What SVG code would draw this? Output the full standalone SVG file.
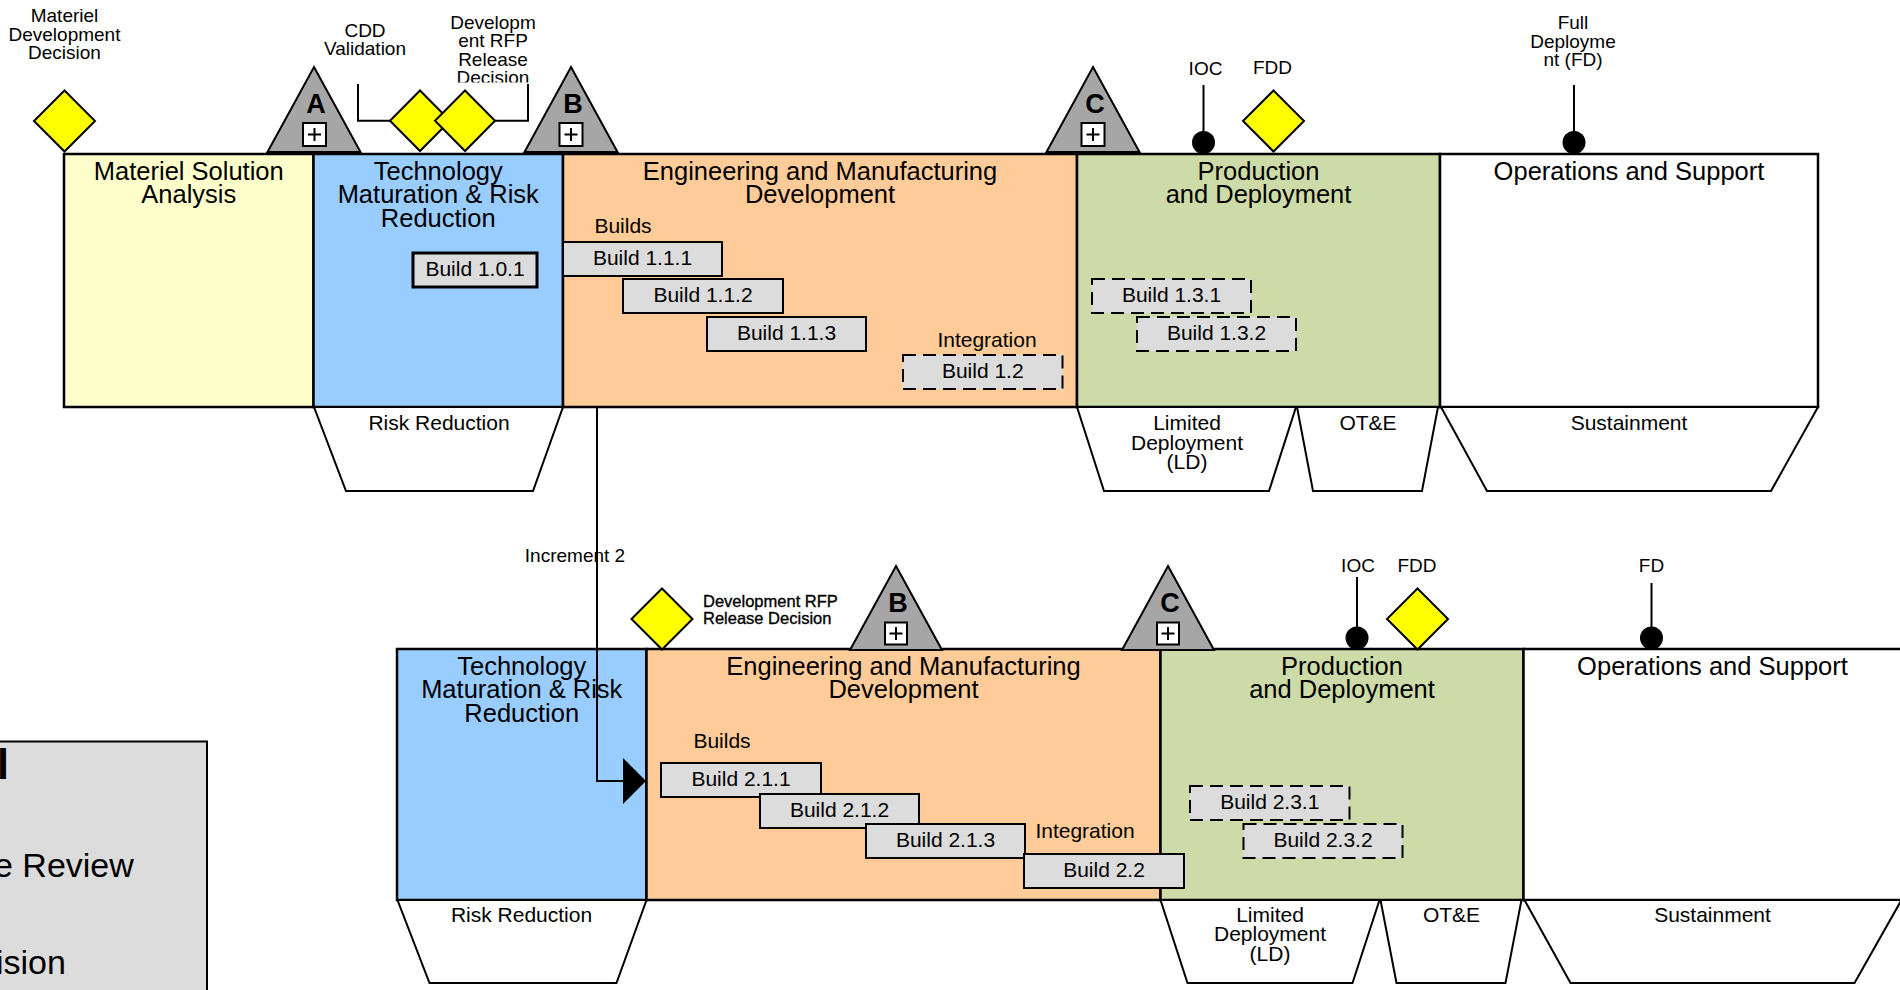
<svg xmlns="http://www.w3.org/2000/svg" width="1900" height="990" viewBox="0 0 1900 990">
<defs>
<style>
text { font-family: "Liberation Sans", Arial, sans-serif; fill: #000; }
.title { font-size: 25.5px; text-anchor: middle; }
.lbl { font-size: 21px; text-anchor: middle; }
.ms { font-size: 19px; text-anchor: middle; }
.big { font-size: 27px; font-weight: bold; text-anchor: middle; }
.ph { stroke: #000; stroke-width: 2.5; }
.msa { fill: #FFFFCC; }
.tmrr { fill: #99CCFF; }
.emd { fill: #FFCC99; }
.pd { fill: #CCDBA8; }
.os { fill: #FFFFFF; }
.build { fill: #DCDCDC; stroke: #000; stroke-width: 2; }
.dash { stroke-dasharray: 13 7; }
.dia { fill: #FFFF00; stroke: #000; stroke-width: 2; }
.tri { fill: #A6A6A6; stroke: #000; stroke-width: 2; }
.plus { fill: #FFFFFF; stroke: #000; stroke-width: 2; }
.trap { fill: #FFFFFF; stroke: #000; stroke-width: 2; }
.ln { fill: none; stroke: #000; stroke-width: 2; }
.rfp { font-size: 16.5px; stroke: #000; stroke-width: 0.35px; }
</style>
<clipPath id="clipRfp"><rect x="430" y="0" width="130" height="82.5"/></clipPath>
<marker id="arrowHead" viewBox="0 0 23 46" refX="23" refY="23" markerWidth="23" markerHeight="46" markerUnits="userSpaceOnUse" orient="auto"><path d="M0,0 L23,23 L0,46 Z" fill="#000"/></marker>
</defs>
<rect x="0" y="0" width="1900" height="990" fill="#FFFFFF"/>

<!-- ===== Row 1 phases ===== -->
<g id="msa1">
<rect class="ph msa" x="64" y="154" width="249.5" height="253"/>
<text class="title" x="188.75" y="180">Materiel Solution</text>
<text class="title" x="188.75" y="203.3">Analysis</text>
</g>
<g id="tmrr1">
<rect class="ph tmrr" x="313.5" y="154" width="249.5" height="253"/>
<text class="title" x="438.25" y="180">Technology</text>
<text class="title" x="438.25" y="203.3">Maturation &amp; Risk</text>
<text class="title" x="438.25" y="226.6">Reduction</text>
</g>
<g id="emd1">
<rect class="ph emd" x="563" y="154" width="514" height="253"/>
<text class="title" x="820" y="180">Engineering and Manufacturing</text>
<text class="title" x="820" y="203.3">Development</text>
<text class="lbl" x="623" y="233">Builds</text>
<text class="lbl" x="987" y="346.5">Integration</text>
</g>
<g id="pd1">
<rect class="ph pd" x="1077" y="154" width="363" height="253"/>
<text class="title" x="1258.5" y="180">Production</text>
<text class="title" x="1258.5" y="203.3">and Deployment</text>
</g>
<g id="os1">
<rect class="ph os" x="1440" y="154" width="378" height="253"/>
<text class="title" x="1629" y="180">Operations and Support</text>
</g>

<!-- Row 1 builds -->
<g id="b101"><rect class="build" x="413" y="253" width="124" height="34" style="stroke-width:3"/><text class="lbl" x="475" y="275.5">Build 1.0.1</text></g>
<g id="b111"><rect class="build" x="563" y="242" width="159" height="34"/><text class="lbl" x="642.5" y="264.5">Build 1.1.1</text></g>
<g id="b112"><rect class="build" x="623" y="279" width="160" height="34"/><text class="lbl" x="703" y="301.5">Build 1.1.2</text></g>
<g id="b113"><rect class="build" x="707" y="317" width="159" height="34"/><text class="lbl" x="786.5" y="339.5">Build 1.1.3</text></g>
<g id="b12"><rect class="build dash" x="903" y="355" width="159.5" height="34"/><text class="lbl" x="982.75" y="377.5">Build 1.2</text></g>
<g id="b131"><rect class="build dash" x="1092" y="279" width="159" height="34"/><text class="lbl" x="1171.5" y="301.5">Build 1.3.1</text></g>
<g id="b132"><rect class="build dash" x="1137" y="317" width="159" height="34"/><text class="lbl" x="1216.5" y="339.5">Build 1.3.2</text></g>

<!-- Row 1 trapezoids -->
<g id="rr1"><path class="trap" d="M314,407 L563,407 L533,491 L346,491 Z"/><text class="lbl" x="439" y="430">Risk Reduction</text></g>
<g id="ld1"><path class="trap" d="M1077,407 L1296,407 L1269,491 L1104,491 Z"/><text class="lbl" x="1187" y="430">Limited</text><text class="lbl" x="1187" y="449.5">Deployment</text><text class="lbl" x="1187" y="469">(LD)</text></g>
<g id="ote1"><path class="trap" d="M1297,407 L1438,407 L1422,491 L1313,491 Z"/><text class="lbl" x="1368" y="430">OT&amp;E</text></g>
<g id="sus1"><path class="trap" d="M1441,407 L1818,407 L1771,491 L1487,491 Z"/><text class="lbl" x="1629" y="430">Sustainment</text></g>

<!-- Row 1 milestones -->
<g id="mdd">
<path class="dia" d="M64.5,90.5 L95,121 L64.5,151.5 L34,121 Z"/>
<text class="ms" x="64.5" y="22">Materiel</text>
<text class="ms" x="64.5" y="40.5">Development</text>
<text class="ms" x="64.5" y="59">Decision</text>
</g>
<g id="msA">
<path class="tri" d="M314,67 L360.5,152 L267.5,152 Z"/>
<text class="big" x="316" y="113">A</text>
<rect class="plus" x="303" y="123" width="23" height="23"/>
<path class="ln" d="M308,134.5 H321 M314.5,128 V141"/>
</g>
<g id="cdd">
<path class="ln" d="M358,84 V120.7 H390"/>
<path class="dia" d="M420,90.5 L450,120.7 L420,151 L390,120.7 Z"/>
<text class="ms" x="365" y="37">CDD</text>
<text class="ms" x="365" y="55.3">Validation</text>
</g>
<g id="rfp1">
<path class="ln" d="M495,120.7 H528 V84"/>
<path class="dia" d="M465,90.5 L495,120.7 L465,151 L435,120.7 Z"/>
<g clip-path="url(#clipRfp)">
<text class="ms" x="493" y="28.7">Developm</text>
<text class="ms" x="493" y="47.1">ent RFP</text>
<text class="ms" x="493" y="65.5">Release</text>
<text class="ms" x="493" y="83.9">Decision</text>
</g>
</g>
<g id="msB1">
<path class="tri" d="M571,67 L617.5,152 L524.5,152 Z"/>
<text class="big" x="573" y="113">B</text>
<rect class="plus" x="559.5" y="123" width="23" height="23"/>
<path class="ln" d="M564.5,134.5 H577.5 M571,128 V141"/>
</g>
<g id="msC1">
<path class="tri" d="M1093,67 L1139.5,152 L1046.5,152 Z"/>
<text class="big" x="1095" y="113">C</text>
<rect class="plus" x="1081.5" y="123" width="23" height="23"/>
<path class="ln" d="M1086.5,134.5 H1099.5 M1093,128 V141"/>
</g>
<g id="ioc1">
<path class="ln" d="M1203.5,85 V142"/>
<circle cx="1203.5" cy="142.5" r="11.5" fill="#000"/>
<text class="ms" x="1205.5" y="75">IOC</text>
</g>
<g id="fdd1">
<path class="dia" d="M1273.5,90.5 L1304,121 L1273.5,151.5 L1243,121 Z"/>
<text class="ms" x="1272.5" y="74">FDD</text>
</g>
<g id="fd1">
<path class="ln" d="M1574,85 V142"/>
<circle cx="1574" cy="142.5" r="11.5" fill="#000"/>
<text class="ms" x="1573" y="29">Full</text>
<text class="ms" x="1573" y="47.6">Deployme</text>
<text class="ms" x="1573" y="66.2">nt (FD)</text>
</g>

<!-- ===== Row 2 phases ===== -->
<g id="tmrr2">
<rect class="ph tmrr" x="397" y="649" width="249.5" height="251"/>
<text class="title" x="521.75" y="675">Technology</text>
<text class="title" x="521.75" y="698.3">Maturation &amp; Risk</text>
<text class="title" x="521.75" y="721.6">Reduction</text>
</g>
<g id="emd2">
<rect class="ph emd" x="646.5" y="649" width="514" height="251"/>
<text class="title" x="903.5" y="675">Engineering and Manufacturing</text>
<text class="title" x="903.5" y="698.3">Development</text>
<text class="lbl" x="722" y="748">Builds</text>
<text class="lbl" x="1085" y="838">Integration</text>
</g>
<g id="pd2">
<rect class="ph pd" x="1160.5" y="649" width="363" height="251"/>
<text class="title" x="1342" y="675">Production</text>
<text class="title" x="1342" y="698.3">and Deployment</text>
</g>
<g id="os2">
<rect class="ph os" x="1523.5" y="649" width="378" height="251"/>
<text class="title" x="1712.5" y="675">Operations and Support</text>
</g>

<!-- Row 2 builds -->
<g id="b211"><rect class="build" x="661" y="763" width="160" height="34"/><text class="lbl" x="741" y="785.5">Build 2.1.1</text></g>
<g id="b212"><rect class="build" x="760" y="794" width="159" height="34"/><text class="lbl" x="839.5" y="816.5">Build 2.1.2</text></g>
<g id="b213"><rect class="build" x="866" y="824" width="159" height="34"/><text class="lbl" x="945.5" y="846.5">Build 2.1.3</text></g>
<g id="b22"><rect class="build" x="1024" y="854" width="160" height="34"/><text class="lbl" x="1104" y="876.5">Build 2.2</text></g>
<g id="b231"><rect class="build dash" x="1190" y="786" width="159.5" height="34"/><text class="lbl" x="1269.75" y="808.5">Build 2.3.1</text></g>
<g id="b232"><rect class="build dash" x="1243.5" y="824" width="159" height="34"/><text class="lbl" x="1323" y="846.5">Build 2.3.2</text></g>

<!-- Row 2 trapezoids -->
<g id="rr2"><path class="trap" d="M397.5,900 L646.5,900 L616.5,983 L429.5,983 Z"/><text class="lbl" x="521.5" y="921.5">Risk Reduction</text></g>
<g id="ld2"><path class="trap" d="M1160.5,900 L1379.5,900 L1352.5,983 L1187.5,983 Z"/><text class="lbl" x="1270" y="921.5">Limited</text><text class="lbl" x="1270" y="941">Deployment</text><text class="lbl" x="1270" y="960.5">(LD)</text></g>
<g id="ote2"><path class="trap" d="M1380.5,900 L1521.5,900 L1505.5,983 L1396.5,983 Z"/><text class="lbl" x="1451.5" y="921.5">OT&amp;E</text></g>
<g id="sus2"><path class="trap" d="M1524.5,900 L1901.5,900 L1854.5,983 L1570.5,983 Z"/><text class="lbl" x="1712.5" y="921.5">Sustainment</text></g>

<!-- Row 2 milestones -->
<g id="rfp2">
<path class="dia" d="M662,588.5 L692.5,619 L662,649.5 L631.5,619 Z"/>
<text class="rfp" x="703" y="607.3">Development RFP</text>
<text class="rfp" x="703" y="624">Release Decision</text>
</g>
<g id="msB2">
<path class="tri" d="M896,566 L942,650 L850,650 Z"/>
<text class="big" x="898" y="612">B</text>
<rect class="plus" x="885" y="622.5" width="22" height="22"/>
<path class="ln" d="M889.5,633.5 H902.5 M896,627 V640"/>
</g>
<g id="msC2">
<path class="tri" d="M1168,566 L1214,650 L1122,650 Z"/>
<text class="big" x="1170" y="612">C</text>
<rect class="plus" x="1157" y="622.5" width="22" height="22"/>
<path class="ln" d="M1161.5,633.5 H1174.5 M1168,627 V640"/>
</g>
<g id="ioc2">
<path class="ln" d="M1357,577 V637"/>
<circle cx="1357" cy="638" r="11.5" fill="#000"/>
<text class="ms" x="1358" y="572">IOC</text>
</g>
<g id="fdd2">
<path class="dia" d="M1417.5,588.5 L1448,619 L1417.5,649.5 L1387,619 Z"/>
<text class="ms" x="1417" y="572">FDD</text>
</g>
<g id="fd2">
<path class="ln" d="M1651.5,583 V637"/>
<circle cx="1651.5" cy="638" r="11.5" fill="#000"/>
<text class="ms" x="1651.5" y="572">FD</text>
</g>

<!-- Legend (mostly off-canvas) -->
<g id="legend">
<rect x="-20" y="741.5" width="227" height="270" fill="#DCDCDC" stroke="#000" stroke-width="2"/>
<text x="-3" y="779" style="font-size:43px;font-weight:bold">l</text>
<text x="-6" y="877" style="font-size:34px">e Review</text>
<text x="-4" y="974" style="font-size:34px">ision</text>
</g>

<!-- Connectors -->
<g id="connectors">
<path class="ln" d="M597,407 V781 H646" marker-end="url(#arrowHead)"/>
<text class="ms" x="575" y="562">Increment 2</text>
</g>
</svg>
